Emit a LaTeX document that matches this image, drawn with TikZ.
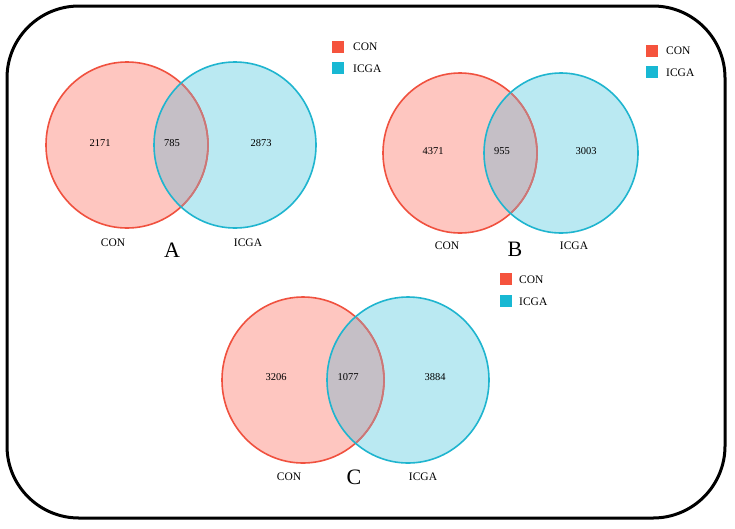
\documentclass[tikz,border=0pt]{standalone}
\usepackage{fontspec}
\setmainfont{Liberation Serif}
\definecolor{conline}{HTML}{F0513F}
\definecolor{confill}{HTML}{FEC6C0}
\definecolor{conmuted}{HTML}{C9787A}
\definecolor{icgaline}{HTML}{1FB5CF}
\definecolor{icgafill}{HTML}{BAE9F2}
\definecolor{overlapfill}{HTML}{C5BFC6}
\definecolor{legred}{HTML}{F5533D}
\definecolor{legcyan}{HTML}{18B8D3}
\tikzset{
  vline/.style={line width=1.6pt},
  numtxt/.style={inner sep=0pt, font=\fontsize{10.5}{12}\selectfont},
  labtxt/.style={inner sep=0pt, font=\fontsize{11.5}{13}\selectfont},
  lettxt/.style={inner sep=0pt, font=\fontsize{22}{24}\selectfont},
  legtxt/.style={inner sep=0pt, anchor=west, font=\fontsize{11.5}{13}\selectfont},
  legsq/.style={minimum size=12pt, inner sep=0pt},
}
% #1 left cx, #2 right cx, #3 cy, #4 rx, #5 ry
\newcommand{\myvenn}[5]{%
  \fill[confill] (#1,#3) ellipse [x radius=#4pt, y radius=#5pt];
  \fill[icgafill] (#2,#3) ellipse [x radius=#4pt, y radius=#5pt];
  \begin{scope}
    \clip (#1,#3) ellipse [x radius=#4pt, y radius=#5pt];
    \fill[overlapfill] (#2,#3) ellipse [x radius=#4pt, y radius=#5pt];
  \end{scope}
  \draw[conline, vline] (#1,#3) ellipse [x radius=#4pt, y radius=#5pt];
  \begin{scope}
    \clip (#2,#3) ellipse [x radius=#4pt, y radius=#5pt];
    \draw[conmuted, vline] (#1,#3) ellipse [x radius=#4pt, y radius=#5pt];
  \end{scope}
  \draw[icgaline, vline] (#2,#3) ellipse [x radius=#4pt, y radius=#5pt];
}
\begin{document}
\begin{tikzpicture}[x=1pt, y=-1pt]
\useasboundingbox (0,0) rectangle (735,528);
\fill[white] (0,0) rectangle (735,528);
% frame
\draw[line width=3pt, rounded corners=72pt] (7,6) rectangle (725,518);

% ---- A ----
\myvenn{127}{235}{145}{81}{83}
\node[numtxt] (a1) at (100,143) {2171};
\node[numtxt] (a2) at (172,143) {785};
\node[numtxt] (a3) at (261,143) {2873};
\node[labtxt] (acon) at (113,243) {CON};
\node[labtxt] (aicga) at (248,243) {ICGA};
\node[lettxt] (aA) at (172,250) {A};
\node[legsq, fill=legred] (asq1) at (338,46.5) {};
\node[legsq, fill=legcyan] (asq2) at (338,67.5) {};
\node[legtxt] (al1) at (353,47) {CON};
\node[legtxt] (al2) at (353,69) {ICGA};

% ---- B ----
\myvenn{460}{561}{153}{77}{80}
\node[numtxt] (b1) at (433,151) {4371};
\node[numtxt] (b2) at (502,151) {955};
\node[numtxt] (b3) at (586,151) {3003};
\node[labtxt] (bcon) at (447,246) {CON};
\node[labtxt] (bicga) at (574,246) {ICGA};
\node[lettxt] (bB) at (515,249) {B};
\node[legsq, fill=legred] (bsq1) at (651.5,50.5) {};
\node[legsq, fill=legcyan] (bsq2) at (651.5,71.5) {};
\node[legtxt] (bl1) at (666,51) {CON};
\node[legtxt] (bl2) at (666,73) {ICGA};

% ---- C ----
\myvenn{303}{408}{380}{81}{83}
\node[numtxt] (c1) at (276,377) {3206};
\node[numtxt] (c2) at (348,377) {1077};
\node[numtxt] (c3) at (435,377) {3884};
\node[labtxt] (ccon) at (289,477) {CON};
\node[labtxt] (cicga) at (423,477) {ICGA};
\node[lettxt] (cC) at (354,477) {C};
\node[legsq, fill=legred] (csq1) at (506,279) {};
\node[legsq, fill=legcyan] (csq2) at (506,301) {};
\node[legtxt] (cl1) at (519,279.5) {CON};
\node[legtxt] (cl2) at (519,302) {ICGA};
\end{tikzpicture}
\end{document}
